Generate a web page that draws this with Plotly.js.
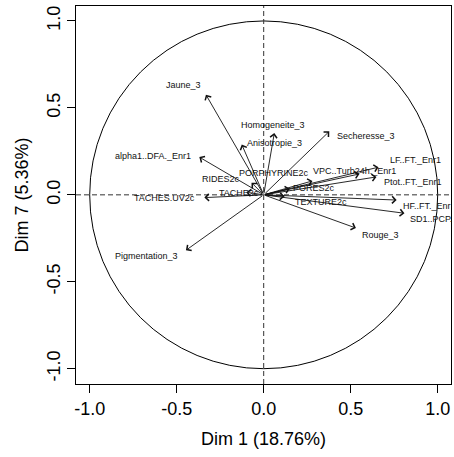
<!DOCTYPE html>
<html>
<head>
<meta charset="utf-8">
<script src="https://cdn.plot.ly/plotly-3.0.1.min.js"></script>
<style>html,body{margin:0;padding:0;background:#fff;}#chart{width:454px;height:457px;}</style>
</head>
<body>
<div id="chart"></div>
<script>
// Variable names (as visible in the reference) and their coordinates on Dim 1 and Dim 7
var varNames = ["Jaune_3", "Homogeneite_3", "Anisotropie_3", "Secheresse_3", "alpha1..DFA._Enr1",
  "LF..FT._Enr1", "VPC..Turb24h._Enr1", "Ptot..FT._Enr1", "HF..FT._Enr", "SD1..PCP.",
  "Rouge_3", "Pigmentation_3", "TACHES.UV2c", "TACHE2c", "RIDES2c", "PORPHYRINE2c", "PORES2c", "TEXTURE2c"];
var dim1 = [-0.332, 0.061, -0.126, 0.377, -0.370, 0.660, 0.550, 0.648, 0.764, 0.809,
  0.530, -0.447, -0.341, -0.100, -0.070, 0.280, 0.150, 0.120];
var dim7 = [0.576, 0.355, 0.289, 0.365, 0.217, 0.159, 0.120, 0.103, -0.030, -0.106,
  -0.191, -0.319, -0.016, 0.015, 0.070, 0.080, 0.035, -0.010];
var tickVals = [-1.0, -0.5, 0.0, 0.5, 1.0];
var tickText = ["-1.0", "-0.5", "0.0", "0.5", "1.0"];
var xTitle = "Dim 1 (18.76%)";
var yTitle = "Dim 7 (5.36%)";

// label placement (layout only): [xanchor, xshift, yshift]
var labelPlace = [
  ["center", -22, 10], ["center", -1, 8], ["left", 3, 2], ["left", 6, -5],
  ["right", -6, 1], ["left", 9, 7], ["center", -5, 3], ["left", 6, -5],
  ["left", 4, -6], ["left", 4, -6], ["left", 4, -7], ["right", -6, -6],
  ["right", -7, 0], ["center", -7, -1], ["right", -10, 4], ["right", -1, 8],
  ["left", 1, 1], ["left", 8, -5]
];

var font = "Liberation Sans, Arial, sans-serif";
var annotations = [];
for (var i = 0; i < varNames.length; i++) {
  annotations.push({
    x: dim1[i], y: dim7[i], xref: "x", yref: "y",
    ax: 0, ay: 0, axref: "x", ayref: "y",
    showarrow: true, arrowhead: 4, arrowsize: 1.5, arrowwidth: 0.9,
    arrowcolor: "#111", standoff: 0, text: ""
  });
}
for (var j = 0; j < varNames.length; j++) {
  var p = labelPlace[j];
  annotations.push({
    x: dim1[j], y: dim7[j], xref: "x", yref: "y", showarrow: false,
    text: varNames[j], xanchor: p[0], yanchor: "middle", xshift: p[1], yshift: p[2],
    font: {family: font, size: 9, color: "#111"}
  });
}

var shapes = [
  {type: "circle", xref: "x", yref: "y", x0: -1, x1: 1, y0: -1, y1: 1, line: {color: "#000", width: 1}},
  {type: "line", xref: "paper", yref: "y", x0: 0, x1: 1, y0: 0, y1: 0, line: {color: "#333", width: 1, dash: "5px,3px"}},
  {type: "line", xref: "x", yref: "paper", x0: 0, x1: 0, y0: 0, y1: 1, line: {color: "#333", width: 1, dash: "5px,3px"}}
];

var layout = {
  width: 454, height: 457,
  margin: {l: 76, r: 3, t: 6, b: 73},
  paper_bgcolor: "#fff", plot_bgcolor: "#fff",
  showlegend: false,
  xaxis: {
    range: [-1.0787, 1.0764], tickvals: tickVals, ticktext: tickText,
    showgrid: false, zeroline: false, showline: true, mirror: true, linecolor: "#000", linewidth: 1,
    ticks: "outside", ticklen: 8, tickcolor: "#000", tickwidth: 1,
    tickfont: {family: font, size: 18, color: "#000"},
    title: {text: xTitle, font: {family: font, size: 18, color: "#000"}, standoff: 14}
  },
  yaxis: {
    range: [-1.088, 1.086], tickvals: tickVals, ticktext: tickText, tickangle: -90,
    showgrid: false, zeroline: false, showline: true, mirror: true, linecolor: "#000", linewidth: 1,
    ticks: "outside", ticklen: 8, tickcolor: "#000", tickwidth: 1,
    tickfont: {family: font, size: 18, color: "#000"},
    title: {text: yTitle, font: {family: font, size: 18, color: "#000"}, standoff: 10}
  },
  shapes: shapes,
  annotations: annotations
};

Plotly.newPlot("chart", [{x: dim1, y: dim7, type: "scatter", mode: "markers", marker: {size: 1, color: "rgba(0,0,0,0)"}, hoverinfo: "skip"}], layout, {staticPlot: true, displayModeBar: false});
</script>
</body>
</html>
